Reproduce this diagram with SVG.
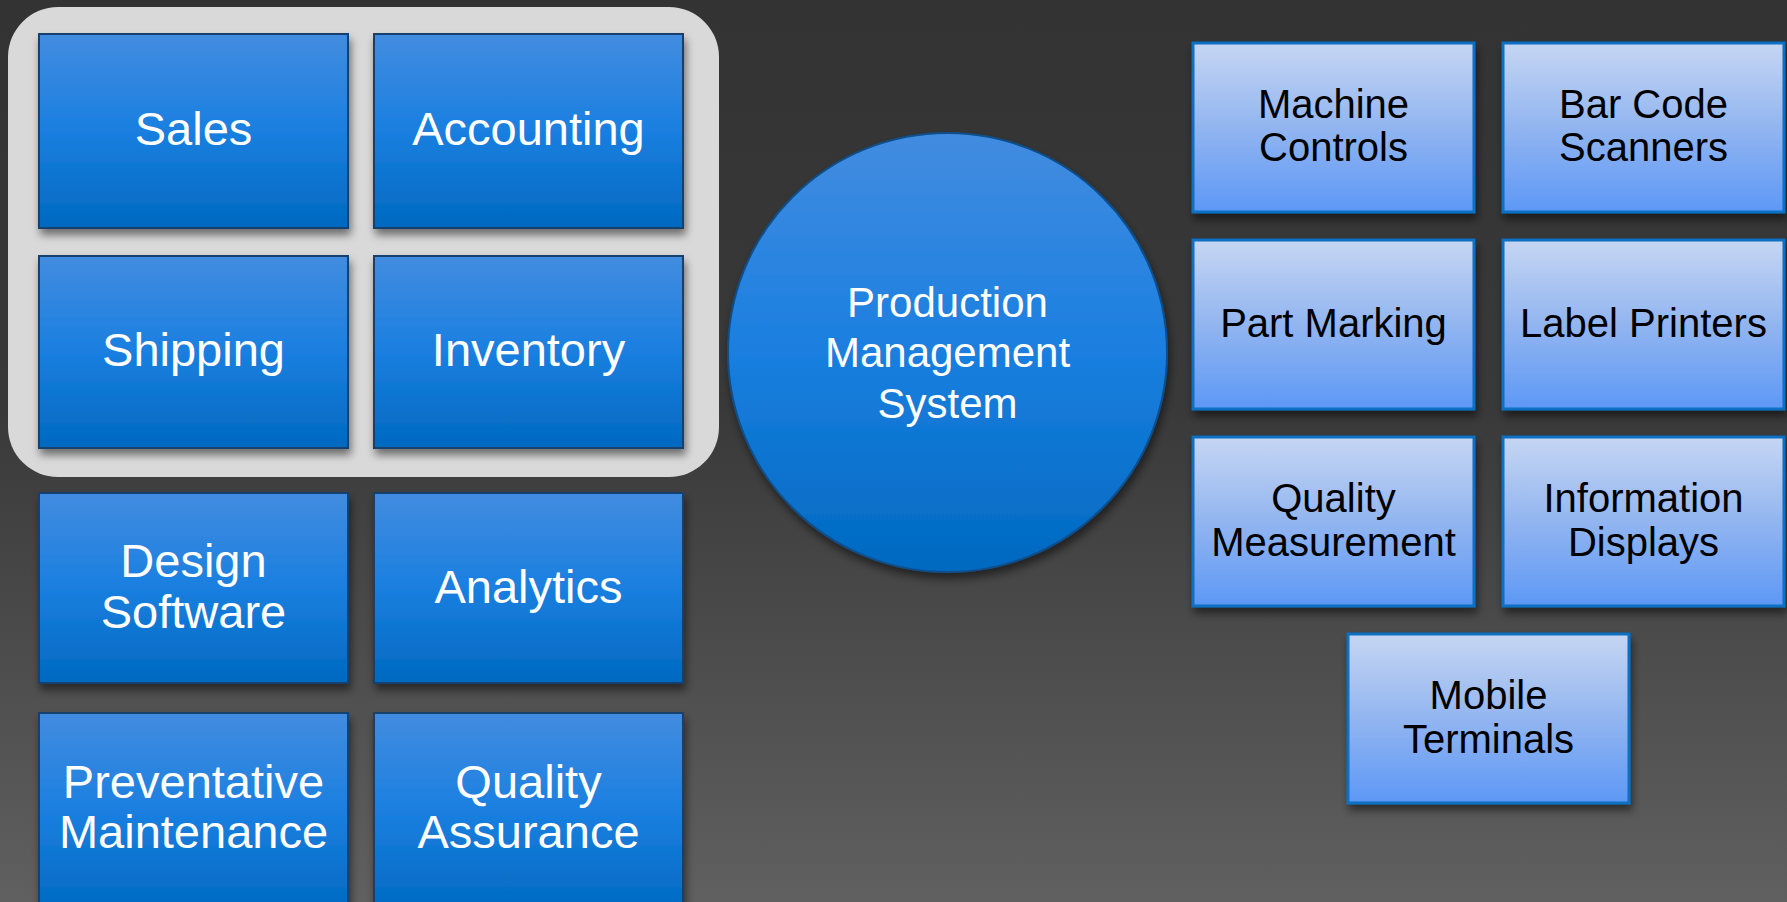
<svg xmlns="http://www.w3.org/2000/svg" width="1787" height="902" viewBox="0 0 1787 902">
  <defs>
    <linearGradient id="bg" x1="0" y1="0" x2="0" y2="1">
      <stop offset="0" stop-color="#333333"/>
      <stop offset="0.45" stop-color="#393939"/>
      <stop offset="1" stop-color="#606060"/>
    </linearGradient>
    <linearGradient id="darkBlue" x1="0" y1="0" x2="0" y2="1">
      <stop offset="0" stop-color="#428ce0"/>
      <stop offset="0.5" stop-color="#1a7fe0"/>
      <stop offset="1" stop-color="#0069c0"/>
    </linearGradient>
    <linearGradient id="lightBlue" x1="0" y1="0" x2="0" y2="1">
      <stop offset="0" stop-color="#c6d6f3"/>
      <stop offset="0.5" stop-color="#92b5f0"/>
      <stop offset="1" stop-color="#5d98f6"/>
    </linearGradient>
    <filter id="shadow" x="-10%" y="-10%" width="125%" height="130%">
      <feGaussianBlur in="SourceAlpha" stdDeviation="4"/>
      <feOffset dx="2" dy="6" result="b"/>
      <feComponentTransfer><feFuncA type="linear" slope="0.5"/></feComponentTransfer>
      <feMerge><feMergeNode/><feMergeNode in="SourceGraphic"/></feMerge>
    </filter>
    <style>
      .dark { fill: url(#darkBlue); stroke: #123f6e; stroke-width: 2; filter: url(#shadow); }
      .light { fill: url(#lightBlue); stroke: #0a6fc2; stroke-width: 3; filter: url(#shadow); }
      .wt { font-family: "Liberation Sans", Arial, sans-serif; font-size: 47px; fill: #ffffff; text-anchor: middle; }
      .ct { font-family: "Liberation Sans", Arial, sans-serif; font-size: 42px; fill: #ffffff; text-anchor: middle; }
      .bt { font-family: "Liberation Sans", Arial, sans-serif; font-size: 40px; fill: #000000; text-anchor: middle; }
    </style>
  </defs>

  <rect x="0" y="0" width="1787" height="902" fill="url(#bg)"/>

  <!-- business systems group backdrop -->
  <rect id="business-panel" x="8" y="7" width="711" height="470" rx="50" ry="50" fill="#d9d9d9"/>

  <!-- left column: business applications -->
  <g id="sales">
    <rect class="dark" x="39" y="34" width="309" height="194"/>
    <text class="wt" x="193.5" y="145">Sales</text>
  </g>
  <g id="accounting">
    <rect class="dark" x="374" y="34" width="309" height="194"/>
    <text class="wt" x="528.5" y="145">Accounting</text>
  </g>
  <g id="shipping">
    <rect class="dark" x="39" y="256" width="309" height="192"/>
    <text class="wt" x="193.5" y="366">Shipping</text>
  </g>
  <g id="inventory">
    <rect class="dark" x="374" y="256" width="309" height="192"/>
    <text class="wt" x="528.5" y="366">Inventory</text>
  </g>
  <g id="design-software">
    <rect class="dark" x="39" y="493" width="309" height="190"/>
    <text class="wt" x="193.5" y="577">Design</text>
    <text class="wt" x="193.5" y="628">Software</text>
  </g>
  <g id="analytics">
    <rect class="dark" x="374" y="493" width="309" height="190"/>
    <text class="wt" x="528.5" y="603">Analytics</text>
  </g>
  <g id="preventative-maintenance">
    <rect class="dark" x="39" y="713" width="309" height="200"/>
    <text class="wt" x="193.5" y="798">Preventative</text>
    <text class="wt" x="193.5" y="848">Maintenance</text>
  </g>
  <g id="quality-assurance">
    <rect class="dark" x="374" y="713" width="309" height="200"/>
    <text class="wt" x="528.5" y="798">Quality</text>
    <text class="wt" x="528.5" y="848">Assurance</text>
  </g>

  <!-- central hub -->
  <g id="production-management-system">
    <circle cx="947.5" cy="352.5" r="219.5" fill="url(#darkBlue)" stroke="#0f4f8c" stroke-width="2" filter="url(#shadow)"/>
    <text class="ct" x="947.5" y="317">Production</text>
    <text class="ct" x="947.5" y="367">Management</text>
    <text class="ct" x="947.5" y="418">System</text>
  </g>

  <!-- right column: shop floor devices -->
  <g id="machine-controls">
    <rect class="light" x="1193" y="43" width="281" height="169"/>
    <text class="bt" x="1333.5" y="118">Machine</text>
    <text class="bt" x="1333.5" y="161">Controls</text>
  </g>
  <g id="bar-code-scanners">
    <rect class="light" x="1503" y="43" width="281" height="169"/>
    <text class="bt" x="1643.5" y="118">Bar Code</text>
    <text class="bt" x="1643.5" y="161">Scanners</text>
  </g>
  <g id="part-marking">
    <rect class="light" x="1193" y="240" width="281" height="169"/>
    <text class="bt" x="1333.5" y="337">Part Marking</text>
  </g>
  <g id="label-printers">
    <rect class="light" x="1503" y="240" width="281" height="169"/>
    <text class="bt" x="1643.5" y="337">Label Printers</text>
  </g>
  <g id="quality-measurement">
    <rect class="light" x="1193" y="437" width="281" height="169"/>
    <text class="bt" x="1333.5" y="512">Quality</text>
    <text class="bt" x="1333.5" y="556">Measurement</text>
  </g>
  <g id="information-displays">
    <rect class="light" x="1503" y="437" width="281" height="169"/>
    <text class="bt" x="1643.5" y="512">Information</text>
    <text class="bt" x="1643.5" y="556">Displays</text>
  </g>
  <g id="mobile-terminals">
    <rect class="light" x="1348" y="634" width="281" height="169"/>
    <text class="bt" x="1488.5" y="709">Mobile</text>
    <text class="bt" x="1488.5" y="753">Terminals</text>
  </g>

  <!-- no connectors are drawn between the nodes -->
  <g id="connectors"/>
</svg>
